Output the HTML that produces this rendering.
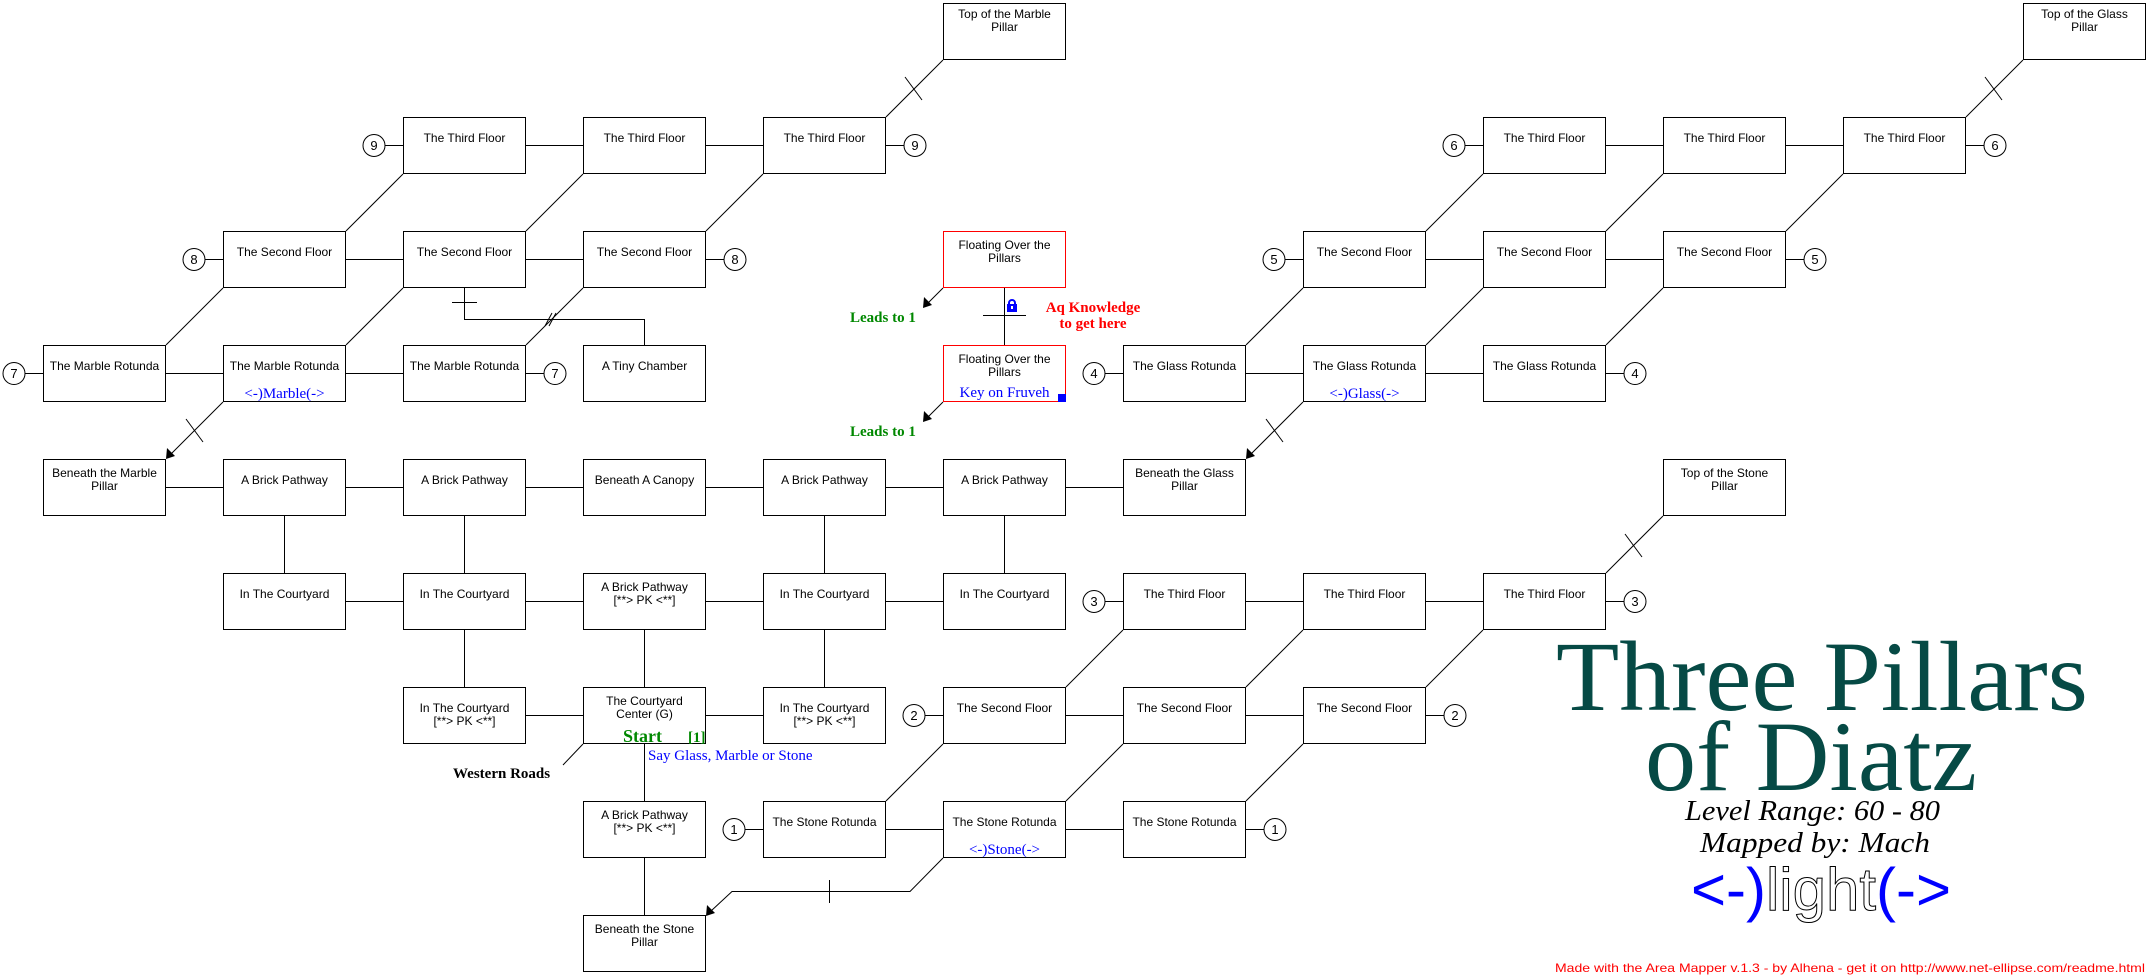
<!DOCTYPE html>
<html><head><meta charset="utf-8"><style>
html,body{margin:0;padding:0;background:#fff;}
svg{display:block;}
.b{font-family:"Liberation Sans",sans-serif;font-size:12px;fill:#000;text-anchor:middle;}
.s{font-family:"Liberation Serif",serif;}
</style></head><body>
<svg width="2150" height="978" viewBox="0 0 2150 978" xmlns="http://www.w3.org/2000/svg">
<g stroke="#000" stroke-width="1" fill="none">
<line x1="526" y1="145.5" x2="763" y2="145.5"/>
<line x1="1606" y1="145.5" x2="1843" y2="145.5"/>
<line x1="346" y1="259.5" x2="583" y2="259.5"/>
<line x1="1426" y1="259.5" x2="1663" y2="259.5"/>
<line x1="166" y1="373.5" x2="403" y2="373.5"/>
<line x1="1246" y1="373.5" x2="1483" y2="373.5"/>
<line x1="166" y1="487.5" x2="1123" y2="487.5"/>
<line x1="346" y1="601.5" x2="943" y2="601.5"/>
<line x1="1246" y1="601.5" x2="1483" y2="601.5"/>
<line x1="526" y1="715.5" x2="583" y2="715.5"/>
<line x1="706" y1="715.5" x2="763" y2="715.5"/>
<line x1="1066" y1="715.5" x2="1303" y2="715.5"/>
<line x1="886" y1="829.5" x2="1123" y2="829.5"/>
<line x1="284.5" y1="516" x2="284.5" y2="573"/>
<line x1="464.5" y1="516" x2="464.5" y2="687"/>
<line x1="824.5" y1="516" x2="824.5" y2="687"/>
<line x1="1004.5" y1="516" x2="1004.5" y2="573"/>
<line x1="644.5" y1="630" x2="644.5" y2="915"/>
<polyline points="464.5,288 464.5,319.5 644.5,319.5 644.5,345"/>
<line x1="452" y1="302.5" x2="477" y2="302.5"/>
<line x1="545" y1="326" x2="552" y2="313"/>
<line x1="549" y1="326" x2="556" y2="313"/>
<line x1="1004.5" y1="288" x2="1004.5" y2="345"/>
<line x1="983" y1="315.5" x2="1026" y2="315.5"/>
<line x1="346" y1="231" x2="403" y2="174"/>
<line x1="526" y1="231" x2="583" y2="174"/>
<line x1="706" y1="231" x2="763" y2="174"/>
<line x1="166" y1="345" x2="223" y2="288"/>
<line x1="346" y1="345" x2="403" y2="288"/>
<line x1="526" y1="345" x2="583" y2="288"/>
<line x1="886" y1="117" x2="943" y2="60"/>
<line x1="223" y1="402" x2="170" y2="455"/>
<line x1="1246" y1="345" x2="1303" y2="288"/>
<line x1="1426" y1="345" x2="1483" y2="288"/>
<line x1="1606" y1="345" x2="1663" y2="288"/>
<line x1="1426" y1="231" x2="1483" y2="174"/>
<line x1="1606" y1="231" x2="1663" y2="174"/>
<line x1="1786" y1="231" x2="1843" y2="174"/>
<line x1="1966" y1="117" x2="2023" y2="60"/>
<line x1="1303" y1="402" x2="1250" y2="455"/>
<line x1="1066" y1="687" x2="1123" y2="630"/>
<line x1="1246" y1="687" x2="1303" y2="630"/>
<line x1="1426" y1="687" x2="1483" y2="630"/>
<line x1="886" y1="801" x2="943" y2="744"/>
<line x1="1066" y1="801" x2="1123" y2="744"/>
<line x1="1246" y1="801" x2="1303" y2="744"/>
<line x1="1606" y1="573" x2="1663" y2="516"/>
<polyline points="943,858 910,891.5 732,891.5 711,911"/>
<line x1="829.5" y1="880" x2="829.5" y2="903"/>
<line x1="905" y1="77" x2="922" y2="100"/><line x1="1985" y1="77" x2="2002" y2="100"/>
<line x1="186" y1="419" x2="203" y2="442"/><line x1="1266" y1="419" x2="1283" y2="442"/>
<line x1="1625" y1="534" x2="1642" y2="557"/>
<line x1="563" y1="765" x2="583" y2="744"/>
<line x1="943" y1="288" x2="927" y2="304"/>
<line x1="943" y1="402" x2="927" y2="418"/>
<line x1="385" y1="145.5" x2="403" y2="145.5"/><line x1="886" y1="145.5" x2="904" y2="145.5"/>
<line x1="205" y1="259.5" x2="223" y2="259.5"/><line x1="706" y1="259.5" x2="724" y2="259.5"/>
<line x1="25" y1="373.5" x2="43" y2="373.5"/><line x1="526" y1="373.5" x2="544" y2="373.5"/>
<line x1="1465" y1="145.5" x2="1483" y2="145.5"/><line x1="1966" y1="145.5" x2="1984" y2="145.5"/>
<line x1="1285" y1="259.5" x2="1303" y2="259.5"/><line x1="1786" y1="259.5" x2="1804" y2="259.5"/>
<line x1="1105" y1="373.5" x2="1123" y2="373.5"/><line x1="1606" y1="373.5" x2="1624" y2="373.5"/>
<line x1="1105" y1="601.5" x2="1123" y2="601.5"/><line x1="1606" y1="601.5" x2="1624" y2="601.5"/>
<line x1="925" y1="715.5" x2="943" y2="715.5"/><line x1="1426" y1="715.5" x2="1444" y2="715.5"/>
<line x1="745" y1="829.5" x2="763" y2="829.5"/><line x1="1246" y1="829.5" x2="1264" y2="829.5"/>
</g>
<g fill="#000">
<polygon points="166,459 167,448 175,456"/>
<polygon points="1246,459 1247,448 1255,456"/>
<polygon points="706,916 707,905 715,913"/>
<polygon points="923,308 924,297 932,305"/>
<polygon points="923,422 924,411 932,419"/>
</g>
<g fill="#fff" stroke="#000">
<circle cx="374" cy="145.5" r="11"/><circle cx="915" cy="145.5" r="11"/>
<circle cx="194" cy="259.5" r="11"/><circle cx="735" cy="259.5" r="11"/>
<circle cx="14" cy="373.5" r="11"/><circle cx="555" cy="373.5" r="11"/>
<circle cx="1454" cy="145.5" r="11"/><circle cx="1995" cy="145.5" r="11"/>
<circle cx="1274" cy="259.5" r="11"/><circle cx="1815" cy="259.5" r="11"/>
<circle cx="1094" cy="373.5" r="11"/><circle cx="1635" cy="373.5" r="11"/>
<circle cx="1094" cy="601.5" r="11"/><circle cx="1635" cy="601.5" r="11"/>
<circle cx="914" cy="715.5" r="11"/><circle cx="1455" cy="715.5" r="11"/>
<circle cx="734" cy="829.5" r="11"/><circle cx="1275" cy="829.5" r="11"/>
</g>
<g class="b" style="font-size:13px">
<text x="374" y="150">9</text><text x="915" y="150">9</text>
<text x="194" y="264">8</text><text x="735" y="264">8</text>
<text x="14" y="378">7</text><text x="555" y="378">7</text>
<text x="1454" y="150">6</text><text x="1995" y="150">6</text>
<text x="1274" y="264">5</text><text x="1815" y="264">5</text>
<text x="1094" y="378">4</text><text x="1635" y="378">4</text>
<text x="1094" y="606">3</text><text x="1635" y="606">3</text>
<text x="914" y="720">2</text><text x="1455" y="720">2</text>
<text x="734" y="834">1</text><text x="1275" y="834">1</text>
</g>
<g fill="#fff" stroke="#000">
<rect x="943.5" y="3.5" width="122" height="56"/><rect x="2023.5" y="3.5" width="122" height="56"/>
<rect x="403.5" y="117.5" width="122" height="56"/><rect x="583.5" y="117.5" width="122" height="56"/><rect x="763.5" y="117.5" width="122" height="56"/>
<rect x="1483.5" y="117.5" width="122" height="56"/><rect x="1663.5" y="117.5" width="122" height="56"/><rect x="1843.5" y="117.5" width="122" height="56"/>
<rect x="223.5" y="231.5" width="122" height="56"/><rect x="403.5" y="231.5" width="122" height="56"/><rect x="583.5" y="231.5" width="122" height="56"/>
<rect x="1303.5" y="231.5" width="122" height="56"/><rect x="1483.5" y="231.5" width="122" height="56"/><rect x="1663.5" y="231.5" width="122" height="56"/>
<rect x="43.5" y="345.5" width="122" height="56"/><rect x="223.5" y="345.5" width="122" height="56"/><rect x="403.5" y="345.5" width="122" height="56"/><rect x="583.5" y="345.5" width="122" height="56"/>
<rect x="1123.5" y="345.5" width="122" height="56"/><rect x="1303.5" y="345.5" width="122" height="56"/><rect x="1483.5" y="345.5" width="122" height="56"/>
<rect x="43.5" y="459.5" width="122" height="56"/><rect x="223.5" y="459.5" width="122" height="56"/><rect x="403.5" y="459.5" width="122" height="56"/><rect x="583.5" y="459.5" width="122" height="56"/><rect x="763.5" y="459.5" width="122" height="56"/><rect x="943.5" y="459.5" width="122" height="56"/><rect x="1123.5" y="459.5" width="122" height="56"/><rect x="1663.5" y="459.5" width="122" height="56"/>
<rect x="223.5" y="573.5" width="122" height="56"/><rect x="403.5" y="573.5" width="122" height="56"/><rect x="583.5" y="573.5" width="122" height="56"/><rect x="763.5" y="573.5" width="122" height="56"/><rect x="943.5" y="573.5" width="122" height="56"/>
<rect x="1123.5" y="573.5" width="122" height="56"/><rect x="1303.5" y="573.5" width="122" height="56"/><rect x="1483.5" y="573.5" width="122" height="56"/>
<rect x="403.5" y="687.5" width="122" height="56"/><rect x="583.5" y="687.5" width="122" height="56"/><rect x="763.5" y="687.5" width="122" height="56"/>
<rect x="943.5" y="687.5" width="122" height="56"/><rect x="1123.5" y="687.5" width="122" height="56"/><rect x="1303.5" y="687.5" width="122" height="56"/>
<rect x="583.5" y="801.5" width="122" height="56"/><rect x="763.5" y="801.5" width="122" height="56"/><rect x="943.5" y="801.5" width="122" height="56"/><rect x="1123.5" y="801.5" width="122" height="56"/>
<rect x="583.5" y="915.5" width="122" height="56"/>
</g>
<g fill="#fff" stroke="#f00">
<rect x="943.5" y="231.5" width="122" height="56"/><rect x="943.5" y="345.5" width="122" height="56"/>
</g>
<rect x="1058" y="394" width="8" height="8" fill="#00f"/>
<g class="b">
<text x="1004.5" y="18">Top of the Marble</text><text x="1004.5" y="31">Pillar</text>
<text x="2084.5" y="18">Top of the Glass</text><text x="2084.5" y="31">Pillar</text>
<text x="464.5" y="142">The Third Floor</text><text x="644.5" y="142">The Third Floor</text><text x="824.5" y="142">The Third Floor</text>
<text x="1544.5" y="142">The Third Floor</text><text x="1724.5" y="142">The Third Floor</text><text x="1904.5" y="142">The Third Floor</text>
<text x="284.5" y="256">The Second Floor</text><text x="464.5" y="256">The Second Floor</text><text x="644.5" y="256">The Second Floor</text>
<text x="1004.5" y="249">Floating Over the</text><text x="1004.5" y="262">Pillars</text>
<text x="1364.5" y="256">The Second Floor</text><text x="1544.5" y="256">The Second Floor</text><text x="1724.5" y="256">The Second Floor</text>
<text x="104.5" y="370">The Marble Rotunda</text><text x="284.5" y="370">The Marble Rotunda</text><text x="464.5" y="370">The Marble Rotunda</text><text x="644.5" y="370">A Tiny Chamber</text>
<text x="1004.5" y="363">Floating Over the</text><text x="1004.5" y="376">Pillars</text>
<text x="1184.5" y="370">The Glass Rotunda</text><text x="1364.5" y="370">The Glass Rotunda</text><text x="1544.5" y="370">The Glass Rotunda</text>
<text x="104.5" y="477">Beneath the Marble</text><text x="104.5" y="490">Pillar</text>
<text x="284.5" y="484">A Brick Pathway</text><text x="464.5" y="484">A Brick Pathway</text><text x="644.5" y="484">Beneath A Canopy</text><text x="824.5" y="484">A Brick Pathway</text><text x="1004.5" y="484">A Brick Pathway</text>
<text x="1184.5" y="477">Beneath the Glass</text><text x="1184.5" y="490">Pillar</text>
<text x="1724.5" y="477">Top of the Stone</text><text x="1724.5" y="490">Pillar</text>
<text x="284.5" y="598">In The Courtyard</text><text x="464.5" y="598">In The Courtyard</text>
<text x="644.5" y="591">A Brick Pathway</text><text x="644.5" y="604">[**&gt; PK &lt;**]</text>
<text x="824.5" y="598">In The Courtyard</text><text x="1004.5" y="598">In The Courtyard</text>
<text x="1184.5" y="598">The Third Floor</text><text x="1364.5" y="598">The Third Floor</text><text x="1544.5" y="598">The Third Floor</text>
<text x="464.5" y="712">In The Courtyard</text><text x="464.5" y="725">[**&gt; PK &lt;**]</text>
<text x="644.5" y="705">The Courtyard</text><text x="644.5" y="718">Center (G)</text>
<text x="824.5" y="712">In The Courtyard</text><text x="824.5" y="725">[**&gt; PK &lt;**]</text>
<text x="1004.5" y="712">The Second Floor</text><text x="1184.5" y="712">The Second Floor</text><text x="1364.5" y="712">The Second Floor</text>
<text x="644.5" y="819">A Brick Pathway</text><text x="644.5" y="832">[**&gt; PK &lt;**]</text>
<text x="824.5" y="826">The Stone Rotunda</text><text x="1004.5" y="826">The Stone Rotunda</text><text x="1184.5" y="826">The Stone Rotunda</text>
<text x="644.5" y="933">Beneath the Stone</text><text x="644.5" y="946">Pillar</text>
</g>
<g class="s" font-size="15" fill="#00f" text-anchor="middle">
<text x="284.5" y="398">&lt;-)Marble(-&gt;</text>
<text x="1364.5" y="398">&lt;-)Glass(-&gt;</text>
<text x="1004.5" y="854">&lt;-)Stone(-&gt;</text>
<text x="1004.5" y="397">Key on Fruveh</text>
<text x="648" y="760" text-anchor="start">Say Glass, Marble or Stone</text>
</g>
<g>
<path d="M1009 305 v-2 a3 3 0 0 1 6 0 v2" fill="none" stroke="#00f" stroke-width="2"/>
<rect x="1007" y="304" width="10" height="8" fill="#00f"/>
<rect x="1011" y="306" width="2" height="3" fill="#fff"/>
</g>
<g class="s" font-weight="bold">
<text x="1093" y="312" font-size="15" fill="#f00" text-anchor="middle">Aq Knowledge</text>
<text x="1093" y="328" font-size="15" fill="#f00" text-anchor="middle">to get here</text>
<text x="850" y="322" font-size="15" fill="#080">Leads to 1</text>
<text x="850" y="436" font-size="15" fill="#080">Leads to 1</text>
<text x="623" y="742" font-size="18" fill="#080">Start</text>
<text x="688" y="742" font-size="15" fill="#080">[1]</text>
<text x="453" y="778" font-size="15" fill="#000">Western Roads</text>
</g>
<g class="s" fill="#064a45">
<text x="1556" y="710" font-size="100" textLength="532" lengthAdjust="spacingAndGlyphs">Three Pillars</text>
<text x="1645" y="790" font-size="100" textLength="332" lengthAdjust="spacingAndGlyphs">of Diatz</text>
</g>
<g class="s" font-style="italic" fill="#000" font-size="29">
<text x="1685" y="820" textLength="255" lengthAdjust="spacingAndGlyphs">Level Range: 60 - 80</text>
<text x="1700" y="852" textLength="230" lengthAdjust="spacingAndGlyphs">Mapped by: Mach</text>
</g>
<text x="1821" y="910" text-anchor="middle" font-family="Liberation Sans, sans-serif" font-size="60"><tspan fill="#00f">&lt;-)</tspan><tspan fill="#fff" stroke="#000" stroke-width="1">light</tspan><tspan fill="#00f">(-&gt;</tspan></text>
<text x="1555" y="972" font-family="Liberation Sans, sans-serif" font-size="12" fill="#f00" textLength="590" lengthAdjust="spacingAndGlyphs">Made with the Area Mapper v.1.3 - by Alhena - get it on http://www.net-ellipse.com/readme.html</text>
</svg>
</body></html>
